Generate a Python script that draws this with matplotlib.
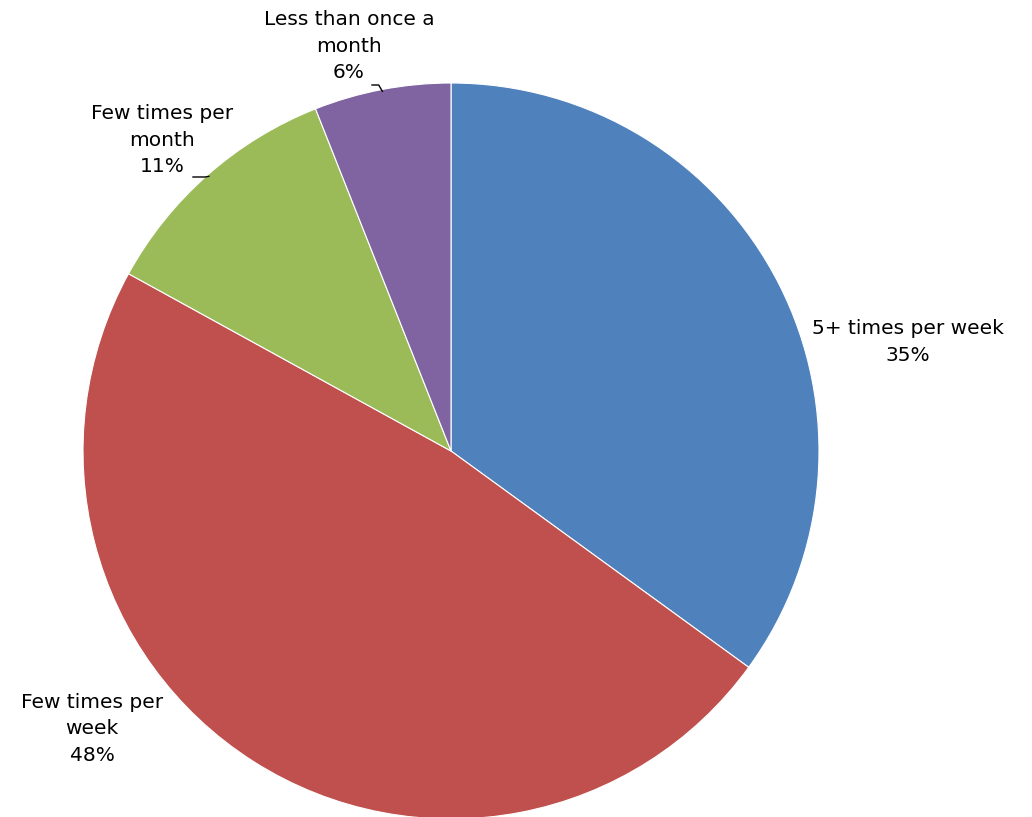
import numpy as np
import matplotlib
matplotlib.use("Agg")
import matplotlib.pyplot as plt

categories = ["5+ times per week", "Few times per\nweek", "Few times per\nmonth", "Less than once a\nmonth"]
shares = [35, 48, 11, 6]
colors = ["#4F81BD", "#C0504D", "#9BBB59", "#8064A2"]

W, H = 1032, 817
cx, cy, R = 451, 451, 368  # pie centre and radius in pixels

fig = plt.figure(figsize=(W / 100, H / 100), dpi=100)
ax = fig.add_axes([0, 0, 1, 1])

wedges, _ = ax.pie(shares, colors=colors, startangle=90, counterclock=False,
                   radius=1.0, center=(0, 0),
                   wedgeprops=dict(edgecolor="white", linewidth=0.8))
ax.set_aspect("auto")
ax.set_xlim(-cx / R, (W - cx) / R)
ax.set_ylim(-(H - cy) / R, cy / R)
ax.axis("off")


def px(x, y):
    return (x - cx) / R, (cy - y) / R


label_pos = [(908, 342), (92, 729), (162, 140), (349, 46)]
font = dict(fontsize=14.5, family="DejaVu Sans", color="black",
            ha="center", va="center", linespacing=1.5)
for cat, val, (lx, ly) in zip(categories, shares, label_pos):
    ax.text(*px(lx, ly), f"{cat}\n{val}%", **font)

# leader lines for the two small slices
total = sum(shares)
start = 90.0
mids = []
for v in shares:
    span = 360.0 * v / total
    mids.append(start - span / 2)
    start -= span

leaders = {2: (193, 177), 3: (372, 85)}
for i, (x0, y0) in leaders.items():
    a = np.deg2rad(mids[i])
    ex, ey = np.cos(a) * 0.995, np.sin(a) * 0.995
    sx, sy = px(x0, y0)
    kx = ex - 0.01
    ax.plot([sx, kx, ex], [sy, sy, ey], color="black", lw=1.0)

fig.savefig("out.png", dpi=100, facecolor="white")
